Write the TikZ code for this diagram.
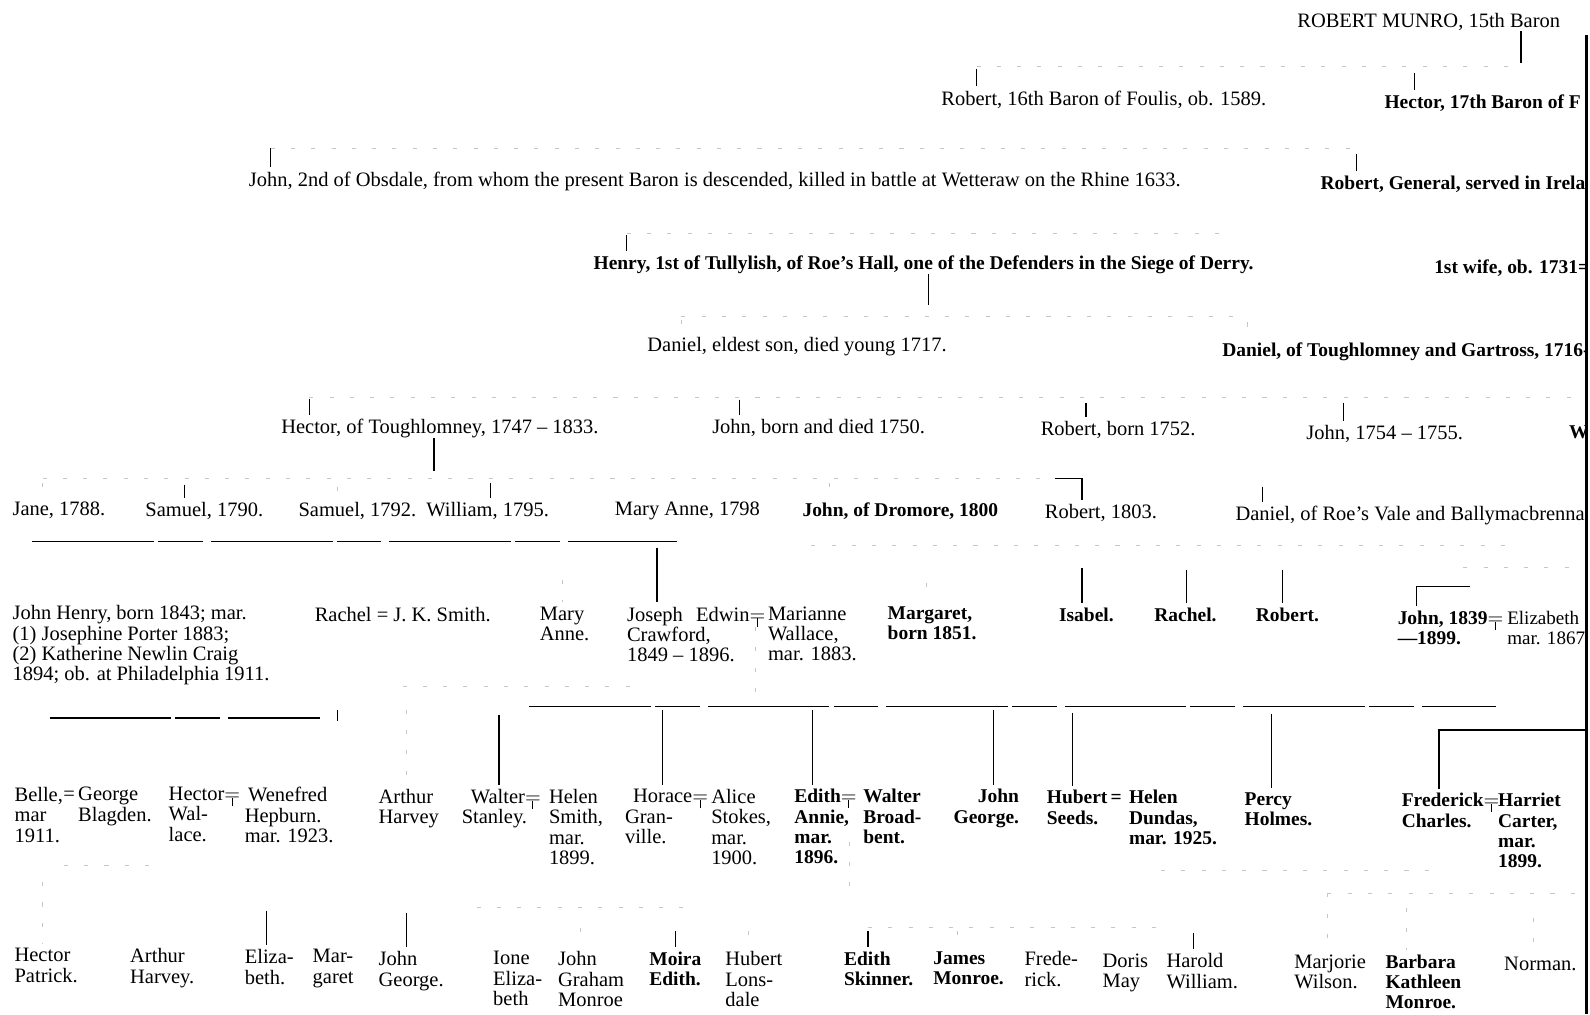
\documentclass[tikz,border=0pt]{standalone}
\usepackage{fontspec}
\setmainfont{Liberation Serif}
\newcommand\chart{\fontsize{10.1}{10}\selectfont}
\newcommand\chartb{\fontsize{9.6}{10}\selectfont\bfseries}
\newcommand\wed{\ooalign{$=$\cr\hfil\rule[-0.6ex]{0.5pt}{0.9ex}\hfil\cr}}
\tikzset{
  person/.style={anchor=north west, inner sep=0pt, align=left, font=\chart},
  bold/.style={font=\chartb},
  link/.style={line width=0.6pt, shorten >=2pt},
  broken/.style={line width=0.6pt, dash pattern=on 60pt off 2pt on 22pt off 4pt},
  faint/.style={line width=0.5pt, gray!45, dash pattern=on 2pt off 8pt, shorten >=2pt},
}
\begin{document}
\begin{tikzpicture}[x=0.5pt,y=-0.5pt]
\useasboundingbox (0,0) rectangle (1568,1000);
\clip (0,0) rectangle (1566,1000);

% top generations
\node[person] (robertM) at (1279,13) {ROBERT MUNRO, 15th Baron};
\node[person] (robertF) at (928,89) {Robert, 16th Baron of Foulis, ob. 1589.};
\node[person,bold] (hectorF) at (1365,93) {Hector, 17th Baron of F};
\node[person] (johnO) at (245,169) {John, 2nd of Obsdale, from whom the present Baron is descended, killed in battle at Wetteraw on the Rhine 1633.};
\node[person,bold] (robertG) at (1302,173) {Robert, General, served in Irela};
\node[person,bold] (henry) at (585,252) {Henry, 1st of Tullylish, of Roe's Hall, one of the Defenders in the Siege of Derry.};
\node[person,bold] (wife) at (1414,256) {1st wife, ob. 1731=};
\node[person] (danielY) at (638,332) {Daniel, eldest son, died young 1717.};
\node[person,bold] (danielT) at (1205,338) {Daniel, of Toughlomney and Gartross, 1716-};

% children of Daniel
\node[person] (hectorT) at (277,413) {Hector, of Toughlomney, 1747 -- 1833.};
\node[person] (johnB) at (702,413) {John, born and died 1750.};
\node[person] (robertB) at (1026,415) {Robert, born 1752.};
\node[person] (johnC) at (1288,419) {John, 1754 -- 1755.};
\node[person,bold] (wcut) at (1547,419) {W};

% children of Hector
\node[person] (jane) at (12,495) {Jane, 1788.};
\node[person] (samuelA) at (143,495) {Samuel, 1790.};
\node[person] (samuelB) at (294,495) {Samuel, 1792.};
\node[person] (william) at (420,495) {William, 1795.};
\node[person] (maryA) at (606,495) {Mary Anne, 1798};
\node[person,bold] (johnDr) at (791,495) {John, of Dromore, 1800};
\node[person] (robertD) at (1030,497) {Robert, 1803.};
\node[person] (danielR) at (1218,499) {Daniel, of Roe's Vale and Ballymacbrenna};

% grandchildren
\node[person] (johnH) at (12,597) {John Henry, born 1843; mar.\\(1) Josephine Porter 1883;\\(2) Katherine Newlin Craig\\1894; ob. at Philadelphia 1911.};
\node[person] (rachelS) at (310,598) {Rachel = J. K. Smith.};
\node[person] (maryB) at (532,598) {Mary\\Anne.};
\node[person] (joseph) at (618,598) {Joseph\\Crawford,\\1849 -- 1896.};
\node[person] (edwin) at (686,598) {Edwin\wed};
\node[person] (marianne) at (757,598) {Marianne\\Wallace,\\mar. 1883.};
\node[person,bold] (margaret) at (875,598) {Margaret,\\born 1851.};
\node[person,bold] (isabel) at (1044,599) {Isabel.};
\node[person,bold] (rachelB) at (1138,599) {Rachel.};
\node[person,bold] (robertC) at (1238,599) {Robert.};
\node[person,bold] (johnE) at (1378,602) {John, 1839\wed\\---1899.};
\node[person,font=\fontsize{9.4}{10}\selectfont] (elizabeth) at (1486,602) {Elizabeth\\mar. 1867};

% great-grandchildren
\node[person] (belle) at (14,776) {Belle,\\mar\\1911.};
\node[person] (george) at (62,776) {=\,George\\\hphantom{=\,}Blagden.};
\node[person] (hectorW) at (166,776) {Hector\wed\\Wal-\\lace.};
\node[person] (wenefred) at (241,776) {\,Wenefred\\Hepburn.\\mar. 1923.};
\node[person] (arthurH) at (373,778) {Arthur\\Harvey};
\node[person] (walterS) at (455,778) {\hspace*{4.5pt}Walter\wed\\Stanley.};
\node[person] (helenS) at (541,778) {Helen\\Smith,\\mar.\\1899.};
\node[person] (horace) at (616,778) {\hspace*{4pt}Horace\wed\\Gran-\\ville.};
\node[person] (alice) at (701,778) {Alice\\Stokes,\\mar.\\1900.};
\node[person,bold] (edith) at (783,778) {Edith\wed\\Annie,\\mar.\\1896.};
\node[person,bold] (walterB) at (851,778) {Walter\\Broad-\\bent.};
\node[person,bold,align=right] (johnG) at (940,778) {John\\George.};
\node[person,bold] (hubert) at (1032,779) {Hubert\,=\\Seeds.};
\node[person,bold] (helenD) at (1113,779) {Helen\\Dundas,\\mar. 1925.};
\node[person,bold] (percy) at (1227,781) {Percy\\Holmes.};
\node[person,bold] (frederick) at (1382,782) {Frederick\wed\\Charles.};
\node[person,bold] (harriet) at (1477,782) {Harriet\\Carter,\\mar.\\1899.};

% youngest generation
\node[person] (hectorP) at (14,935) {Hector\\Patrick.};
\node[person] (arthurP) at (128,935) {Arthur\\Harvey.};
\node[person] (elizaB) at (241,936) {Eliza-\\beth.};
\node[person] (margaretB) at (308,936) {Mar-\\garet};
\node[person] (johnGB) at (373,938) {John\\George.};
\node[person] (ione) at (486,938) {Ione\\Eliza-\\beth};
\node[person] (johnGM) at (550,938) {John\\Graham\\Monroe};
\node[person,bold] (moira) at (640,938) {Moira\\Edith.};
\node[person] (hubertL) at (715,938) {Hubert\\Lons-\\dale};
\node[person,bold] (edithS) at (832,938) {Edith\\Skinner.};
\node[person,bold] (james) at (920,938) {James\\Monroe.};
\node[person] (frederickB) at (1010,938) {Frede-\\rick.};
\node[person] (doris) at (1087,940) {Doris\\May};
\node[person] (harold) at (1150,940) {Harold\\William.};
\node[person] (marjorie) at (1276,941) {Marjorie\\Wilson.};
\node[person,bold] (barbara) at (1366,941) {Barbara\\Kathleen\\Monroe.};
\node[person] (norman) at (1483,943) {Norman.};

% descent lines, top
\draw[link] (1500,0 |- robertM.south) -- (1500,66);
\draw[faint] (963,66) -- (1500,66);
\draw[link] (963,68) -- (963,0 |- robertF.north);
\draw[link] (1395,72) -- (1395,0 |- hectorF.north);
\draw[faint] (267,146) -- (1338,146);
\draw[link] (267,146) -- (267,0 |- johnO.north);
\draw[link] (1338,152) -- (1338,0 |- robertG.north);
\draw[faint] (618,230) -- (1215,230);
\draw[link] (618,232) -- (618,0 |- henry.north);
\draw[link] (916,0 |- henry.south) -- (916,305);
\draw[faint] (672,312) -- (1230,312);
\draw[faint] (672,316) -- (672,0 |- danielY.north);
\draw[faint] (1230,318) -- (1230,0 |- danielT.north);
\draw[faint] (305,392) -- (1560,392);
\draw[link] (305,393) -- (305,0 |- hectorT.north);
\draw[link] (729,394) -- (729,0 |- johnB.north);
\draw[link] (1071,397) -- (1071,0 |- robertB.north);
\draw[link] (1325,397) -- (1325,0 |- johnC.north);

% descent lines, Hector of Toughlomney
\draw[link] (428,0 |- hectorT.south) -- (428,468);
\draw[faint] (42,472) -- (1067,472);
\draw[faint] (42,476) -- (42,0 |- jane.north);
\draw[link] (182,478) -- (182,0 |- samuelA.north);
\draw[faint] (333,480) -- (333,0 |- samuelB.north);
\draw[link] (484,476) -- (484,0 |- william.north);
\draw[faint] (818,476) -- (818,0 |- johnDr.north);
\draw[link] (1040,472) -- (1067,472) -- (1067,0 |- robertD.north);
\draw[link] (1245,480) -- (1245,0 |- danielR.north);

% descent lines, grandchildren
\draw[broken] (32,534) -- (668,534);
\draw[link] (648,540) -- (648,0 |- joseph.north);
\draw[faint] (555,572) -- (555,0 |- maryB.north);
\draw[faint] (800,538) -- (1490,538);
\draw[faint] (914,575) -- (914,0 |- margaret.north);
\draw[link] (1067,560) -- (1067,0 |- isabel.north);
\draw[link] (1170,562) -- (1170,0 |- rachelB.north);
\draw[link] (1265,562) -- (1265,0 |- robertC.north);
\draw[faint] (1443,560) -- (1568,560);
\draw[link] (1450,578) -- (1397,578) -- (1397,0 |- johnE.north);

% descent lines, great-grandchildren
\draw[broken] (49,708) -- (316,708);
\draw[link] (333,700) -- (333,715);
\draw[faint] (397,677) -- (640,677);
\draw[faint] (401,700) -- (401,0 |- arthurH.north);
\draw[link] (492,705) -- (492,0 |- walterS.north);
\draw[faint] (745,0 |- edwin.south) -- (745,690);
\draw[broken] (522,697) -- (1475,697);
\draw[link] (653,700) -- (653,0 |- horace.north);
\draw[link] (801,700) -- (801,0 |- edith.north);
\draw[link] (980,700) -- (980,0 |- johnG.north);
\draw[link] (1058,703) -- (1058,0 |- hubert.north);
\draw[link] (1254,704) -- (1254,0 |- percy.north);
\draw[link] (1418,720) -- (1568,720);
\draw[link] (1419,720) -- (1419,0 |- frederick.north);

% descent lines, youngest generation
\draw[faint] (63,854) -- (165,854);
\draw[faint] (42,870) -- (42,0 |- hectorP.north);
\draw[link] (263,898) -- (263,0 |- elizaB.north);
\draw[link] (401,900) -- (401,0 |- johnGB.north);
\draw[faint] (470,895) -- (690,895);
\draw[faint] (572,915) -- (572,0 |- johnGM.north);
\draw[link] (666,918) -- (666,0 |- moira.north);
\draw[faint] (738,918) -- (738,0 |- hubertL.north);
\draw[faint] (838,830) -- (838,885);
\draw[faint] (856,915) -- (1157,915);
\draw[link] (856,918) -- (856,0 |- edithS.north);
\draw[faint] (944,918) -- (944,0 |- james.north);
\draw[link] (1177,920) -- (1177,0 |- harold.north);
\draw[faint] (1145,858) -- (1417,858);
\draw[faint] (1309,881) -- (1568,881);
\draw[faint] (1309,881) -- (1309,0 |- marjorie.north);
\draw[faint] (1387,895) -- (1387,0 |- barbara.north);
\draw[faint] (1512,905) -- (1512,0 |- norman.north);

% edge of the sheet
\draw[line width=1.5pt] (1565,35) -- (1565,1000);
\end{tikzpicture}
\end{document}
